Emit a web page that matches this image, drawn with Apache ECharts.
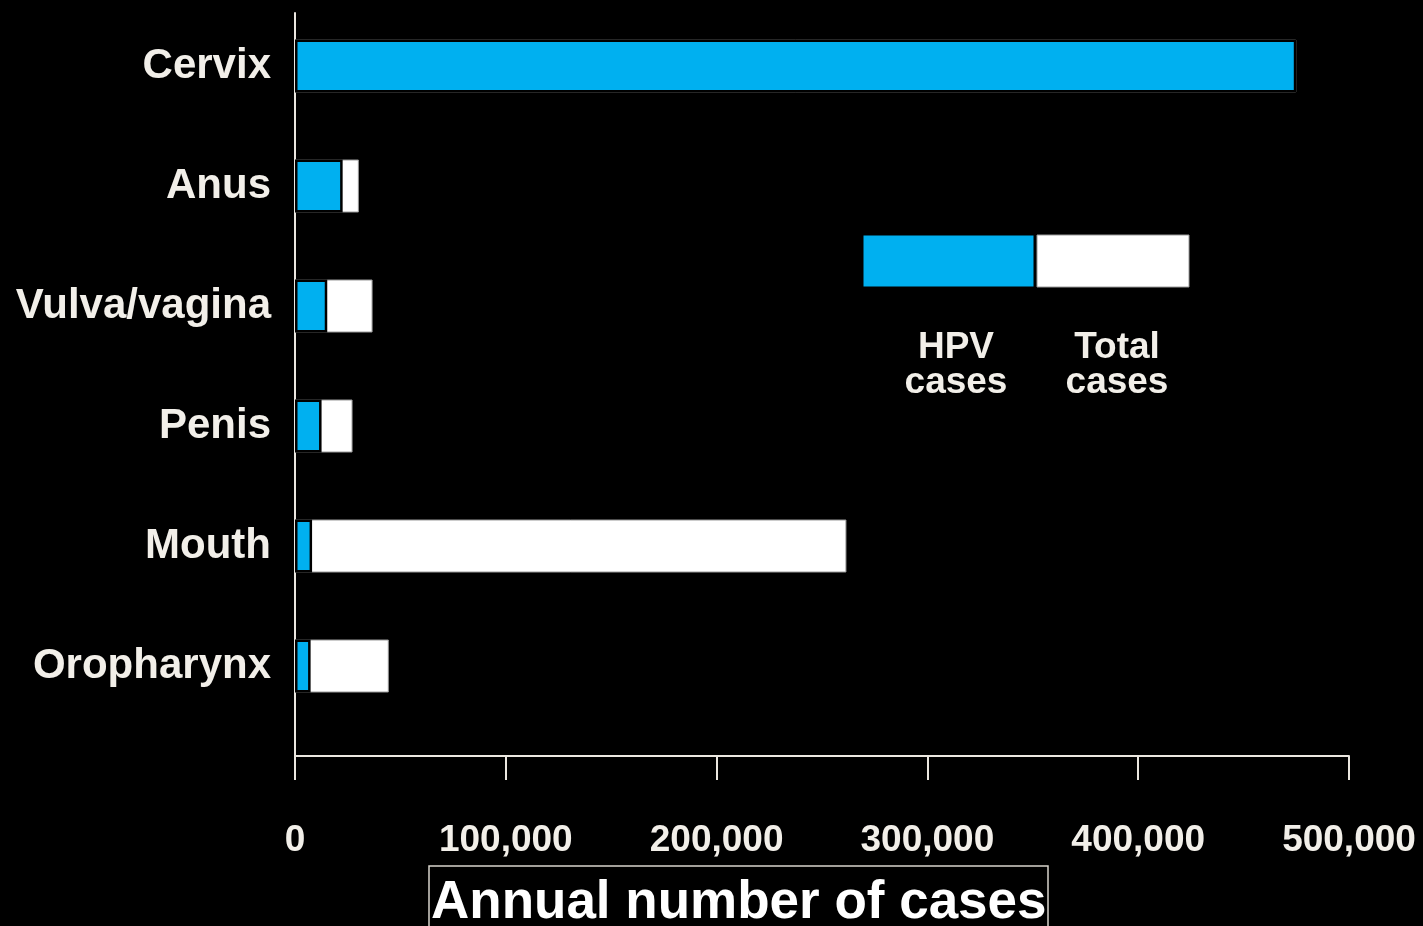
<!DOCTYPE html>
<html>
<head>
<meta charset="utf-8">
<script src="https://cdn.jsdelivr.net/npm/echarts@6/dist/echarts.min.js"></script>
<style>
html,body{margin:0;padding:0;background:#000;}
#chart{width:1423px;height:926px;}
</style>
</head>
<body>
<div id="chart"></div>
<script>
const categories = ['Cervix', 'Anus', 'Vulva/vagina', 'Penis', 'Mouth', 'Oropharynx'];
const hpvCases = [475000, 22600, 15300, 12600, 8100, 7400];
const totalCases = [475000, 30300, 36800, 27300, 261600, 44500];
const xTicks = [0, 100000, 200000, 300000, 400000, 500000];
const legendLabels = ['HPV\ncases', 'Total\ncases'];

const FONT = "'Liberation Sans', Arial, Helvetica, sans-serif";
const TXT = '#f2efe9';
const LINE = '#ebe7e0';
const BLUE = '#00b0f0';

function fmt(v){ return String(v).replace(/\B(?=(\d{3})+(?!\d))/g, ','); }

const chart = echarts.init(document.getElementById('chart'));
chart.setOption({
  backgroundColor: '#000',
  animation: false,
  title: {
    text: 'Annual number of cases',
    left: 429, top: 866,
    padding: [11, 2, 14, 2],
    borderColor: '#d8d4cc', borderWidth: 1.5,
    textStyle: { color: '#fff', fontSize: 53, fontWeight: 'bold', fontFamily: FONT }
  },
  grid: [
    { left: 295, right: 74, top: 6, bottom: 200 },
    { left: 295, right: 74, top: 13, bottom: 170 }
  ],
  xAxis: [
    { gridIndex: 0, type: 'value', min: xTicks[0], max: xTicks[xTicks.length-1], show: false },
    { gridIndex: 1, type: 'value', min: xTicks[0], max: xTicks[xTicks.length-1], interval: xTicks[1]-xTicks[0],
      axisLine: { show: true, lineStyle: { color: LINE, width: 2 } },
      axisTick: { show: true, length: 24, lineStyle: { color: LINE, width: 2 } },
      splitLine: { show: false },
      axisLabel: { margin: 66, color: TXT, fontSize: 37, fontWeight: 'bold', fontFamily: FONT,
        formatter: v => fmt(v) } }
  ],
  yAxis: [
    { gridIndex: 0, type: 'category', inverse: true, data: categories,
      axisLine: { show: false }, axisTick: { show: false },
      axisLabel: { margin: 24, color: TXT, fontSize: 42, fontWeight: 'bold', fontFamily: FONT } },
    { gridIndex: 1, type: 'value', min: 0, max: 1,
      axisLine: { show: true, lineStyle: { color: LINE, width: 2 } },
      axisTick: { show: false }, axisLabel: { show: false }, splitLine: { show: false } }
  ],
  series: [
    { name: 'Total cases', type: 'bar', xAxisIndex: 0, yAxisIndex: 0, data: totalCases,
      barWidth: 53, itemStyle: { color: '#fff', borderColor: '#9a9a9a', borderWidth: 1 } },
    { name: 'HPV cases', type: 'bar', xAxisIndex: 0, yAxisIndex: 0, data: hpvCases,
      barWidth: 53, barGap: '-100%', itemStyle: { color: BLUE, borderColor: '#000', borderWidth: 2.5 } }
  ],
  graphic: [
    { type: 'rect', shape: { x: 863, y: 235, width: 171, height: 52 }, style: { fill: BLUE, stroke: '#000', lineWidth: 1 } },
    { type: 'rect', shape: { x: 1037, y: 235, width: 152, height: 52 }, style: { fill: '#fff', stroke: '#9a9a9a', lineWidth: 1 } },
    { type: 'text', x: 956, y: 365, style: { text: legendLabels[0], fill: TXT, font: "bold 37px " + FONT, align: 'center', verticalAlign: 'middle', lineHeight: 35 } },
    { type: 'text', x: 1117, y: 365, style: { text: legendLabels[1], fill: TXT, font: "bold 37px " + FONT, align: 'center', verticalAlign: 'middle', lineHeight: 35 } }
  ]
});
</script>
</body>
</html>
